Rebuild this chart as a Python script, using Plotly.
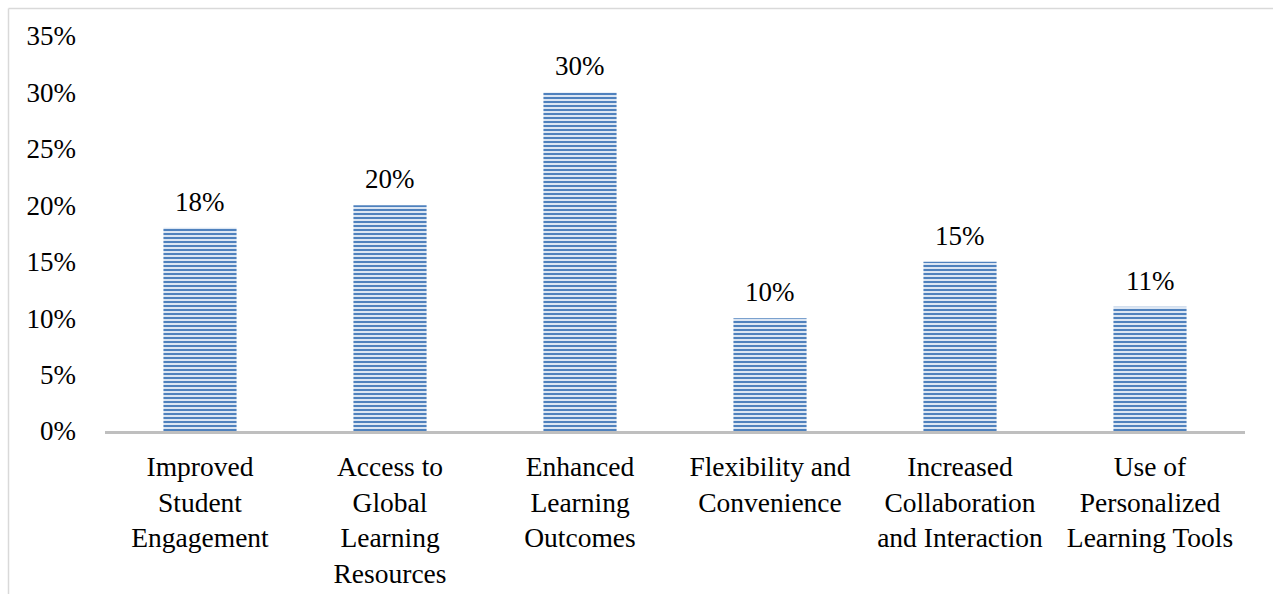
import plotly.graph_objects as go

categories = [
    "Improved<br>Student<br>Engagement",
    "Access to<br>Global<br>Learning<br>Resources",
    "Enhanced<br>Learning<br>Outcomes",
    "Flexibility and<br>Convenience",
    "Increased<br>Collaboration<br>and Interaction",
    "Use of<br>Personalized<br>Learning Tools",
]
values = [18, 20, 30, 10, 15, 11]
y_ticks = [0, 5, 10, 15, 20, 25, 30, 35]
y_tick_labels = [f"{v}%" for v in y_ticks]

FONT = "Liberation Serif, Times New Roman, serif"
FS = 27
FSX = 27.5

fig = go.Figure()
fig.add_trace(go.Bar(
    x=categories,
    y=values,
    width=0.385,
    marker=dict(
        color="#DCE6F3",
        line=dict(width=0),
        pattern=dict(shape="-", size=4, solidity=0.5,
                     fgcolor="#4F81BD", fgopacity=1, bgcolor="#DCE6F3",
                     fillmode="replace"),
    ),
    hoverinfo="skip",
))

for c, v in zip(categories, values):
    fig.add_annotation(x=c, y=v, text=f"{v}%", showarrow=False,
                       xanchor="center", yanchor="bottom", yshift=9,
                       font=dict(family=FONT, size=FS, color="#000000"))

# outer chart border (top and left edges visible)
L, R, T, B = 105, 28, 36, 163
W, H = 1273, 594
pw, ph = W - L - R, H - T - B
bx = (8.5 - L) / pw
by = 1 + (T - 8.5) / ph
fig.add_shape(type="line", xref="paper", yref="paper", x0=bx, x1=(W - L + 5) / pw,
              y0=by, y1=by, line=dict(color="#D9D9D9", width=1.5))
fig.add_shape(type="line", xref="paper", yref="paper", x0=bx, x1=bx,
              y0=by, y1=-(B + 5) / ph, line=dict(color="#D9D9D9", width=1.5))

fig.update_layout(
    width=W, height=H,
    margin=dict(l=L, r=R, t=T, b=B, pad=0, autoexpand=False),
    paper_bgcolor="white", plot_bgcolor="white",
    showlegend=False,
    bargap=0.615,
    font=dict(family=FONT, size=FS, color="#000000"),
)
fig.update_xaxes(
    showline=True, linecolor="#BFBFBF", linewidth=2.5,
    showgrid=False, zeroline=False, ticks="", automargin=False,
    tickfont=dict(family=FONT, size=FSX, color="#000000"),
    ticklabelstandoff=9,
)
fig.update_yaxes(
    range=[0, 35], tickvals=y_ticks, ticktext=y_tick_labels,
    showgrid=False, zeroline=False, showline=False, ticks="", automargin=False,
    tickfont=dict(family=FONT, size=FS, color="#000000"),
    ticklabelstandoff=28,
)

fig.write_html("out.html")
